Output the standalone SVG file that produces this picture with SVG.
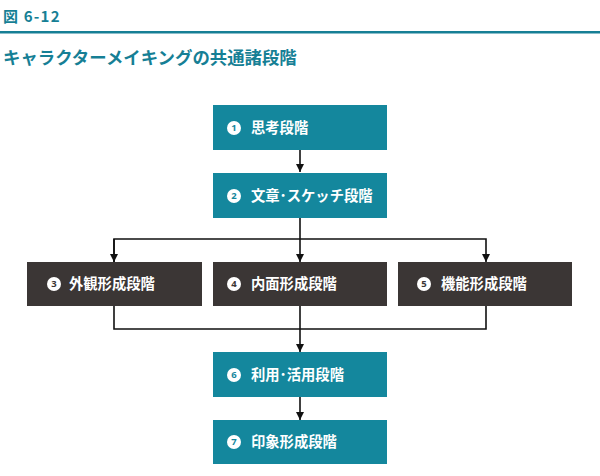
<svg xmlns="http://www.w3.org/2000/svg" width="600" height="476" viewBox="0 0 600 476">
<style>
.hd{font-family:"Noto Sans CJK JP","Noto Sans",sans-serif;font-weight:bold;fill:#167f95}
.t{font-family:"Noto Sans CJK JP","Noto Sans",sans-serif;font-weight:bold;font-size:14.3px;fill:#fff}
.n{font-family:"Noto Sans","Noto Sans CJK JP",sans-serif;font-weight:bold;font-size:9.5px;text-anchor:middle}
.teal{fill:#14879d}
.dark{fill:#3b3635}
.ln{stroke:#111;stroke-width:1.6;fill:none}
</style>
<defs>
<marker id="ah" viewBox="0 0 10 10" refX="10" refY="5" markerWidth="8" markerHeight="8" markerUnits="userSpaceOnUse" orient="auto"><path d="M0,0 L10,5 L0,10 z" fill="#111"/></marker>
</defs>
<rect width="600" height="476" fill="#fff"/>
<text class="hd" x="3" y="22" font-size="15" letter-spacing="1.2">図 6-12</text>
<rect x="0" y="31" width="600" height="2.5" fill="#167f95"/>
<text class="hd" x="3" y="64" font-size="17.4">キャラクターメイキングの共通諸段階</text>
<g id="connectors">
<line class="ln" x1="300" y1="150" x2="300" y2="172" marker-end="url(#ah)"/>
<line class="ln" x1="300" y1="218" x2="300" y2="262" marker-end="url(#ah)"/>
<polyline class="ln" points="114,262 114,239 486,239 486,262" marker-end="url(#ah)"/>
<line class="ln" x1="114" y1="239" x2="114" y2="262" marker-end="url(#ah)"/>
<polyline class="ln" points="114,306 114,329 486,329 486,306"/>
<line class="ln" x1="300" y1="306" x2="300" y2="352" marker-end="url(#ah)"/>
<line class="ln" x1="300" y1="397" x2="300" y2="420" marker-end="url(#ah)"/>
</g>
<g id="n1"><rect class="teal" x="213" y="105" width="174" height="45"/><circle cx="234" cy="128" r="7" fill="#fff"/><text class="n" x="234" y="131.4" fill="#14879d">1</text><text class="t" x="251" y="133">思考段階</text></g>
<g id="n2"><rect class="teal" x="213" y="173" width="174" height="45"/><circle cx="234" cy="196" r="7" fill="#fff"/><text class="n" x="234" y="199.4" fill="#14879d">2</text><text class="t" x="251" y="201">文章･スケッチ段階</text></g>
<g id="n3"><rect class="dark" x="27" y="262" width="175" height="44"/><circle cx="54" cy="284" r="7" fill="#fff"/><text class="n" x="54" y="287.4" fill="#3b3635">3</text><text class="t" x="69" y="289">外観形成段階</text></g>
<g id="n4"><rect class="dark" x="213" y="262" width="174" height="44"/><circle cx="234" cy="284" r="7" fill="#fff"/><text class="n" x="234" y="287.4" fill="#3b3635">4</text><text class="t" x="251" y="289">内面形成段階</text></g>
<g id="n5"><rect class="dark" x="398" y="262" width="174" height="44"/><circle cx="424" cy="284" r="7" fill="#fff"/><text class="n" x="424" y="287.4" fill="#3b3635">5</text><text class="t" x="441" y="289">機能形成段階</text></g>
<g id="n6"><rect class="teal" x="213" y="352" width="174" height="45"/><circle cx="234" cy="375" r="7" fill="#fff"/><text class="n" x="234" y="378.4" fill="#14879d">6</text><text class="t" x="251" y="380">利用･活用段階</text></g>
<g id="n7"><rect class="teal" x="213" y="420" width="174" height="44"/><circle cx="234" cy="442" r="7" fill="#fff"/><text class="n" x="234" y="445.4" fill="#14879d">7</text><text class="t" x="251" y="447">印象形成段階</text></g>
</svg>
